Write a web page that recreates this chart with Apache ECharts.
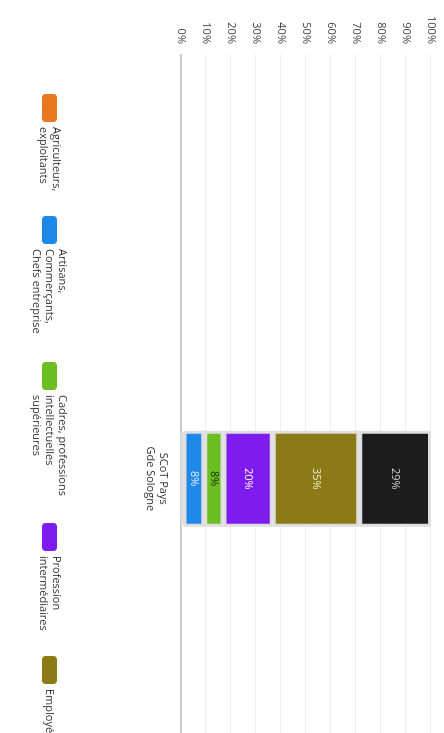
<!DOCTYPE html>
<html><head><meta charset="utf-8">
<script src="https://cdn.jsdelivr.net/npm/echarts@6/dist/echarts.min.js"></script>
<style>
html,body{margin:0;padding:0;overflow:hidden;background:#fff;width:444px;height:733px}
#chart{position:absolute;left:0;top:0;width:733px;height:444px;transform-origin:0 0;transform:translate(444px,0) rotate(90deg);}
</style></head><body><div id="chart"></div>
<script>
// ---- data ----
const categories = ['', '', 'SCoT Pays\nGde Sologne', ''];
const seriesNames = [
  'Agriculteurs,\nexploitants',
  'Artisans,\nCommerçants,\nChefs entreprise',
  'Cadres, professions\nintellectuelles\nsupérieures',
  'Profession\nintermédiaires',
  'Employés',
  'Ouvriers'
];
const agriculteurs = [null, null, 1.0, null];
const artisans     = [null, null, 8.3, null];
const cadres       = [null, null, 7.7, null];
const intermed     = [null, null, 19.7, null];
const employes     = [null, null, 34.6, null];
const ouvriers     = [null, null, 28.7, null];
const axisMin = 0, axisMax = 100, axisStep = 10;

// ---- styles ----
const colors = ['#E8771F', '#1F87E8', '#6CBF22', '#7E1CF0', '#8C7A16', '#1C1C1C'];
const labelColors = ['#ffffff', '#e6f1ff', '#16260a', '#ffffff', '#f2ecd2', '#cfcfcf'];
const legendTextWidths = [79, 103, 118, 90, 60, 60];
const FONT = 'Open Sans';

const values = [agriculteurs, artisans, cadres, intermed, employes, ouvriers];

const chart = echarts.init(document.getElementById('chart'), null, {renderer: 'canvas'});
chart.setOption({
  animation: false,
  backgroundColor: '#fff',
  grid: {left: 55, right: 0, top: 13, bottom: 181, containLabel: false},
  legend: {
    left: 89, top: 370, width: 1200,
    itemWidth: 28, itemHeight: 15, itemGap: 10,
    icon: 'roundRect',
    itemStyle: {borderWidth: 0},
    textStyle: {fontFamily: FONT, fontSize: 11, lineHeight: 13, color: '#333'},
    data: seriesNames.map((n, i) => ({name: n, textStyle: {width: legendTextWidths[i]}}))
  },
  xAxis: {
    type: 'category', data: categories,
    axisTick: {show: false},
    axisLine: {show: true, lineStyle: {color: '#c8c8c8', width: 2}},
    axisLabel: {fontFamily: FONT, fontSize: 11, lineHeight: 12.5, color: '#333', margin: 12, interval: 0}
  },
  yAxis: {
    type: 'value', min: axisMin, max: axisMax, interval: axisStep,
    axisLine: {show: false}, axisTick: {show: false},
    splitLine: {lineStyle: {color: '#eeeeee', width: 1}},
    axisLabel: {formatter: '{value}%', fontFamily: FONT, fontSize: 11, color: '#444', margin: 11}
  },
  series: values.map((v, i) => ({
    name: seriesNames[i], type: 'bar', stack: 'total', data: v,
    barWidth: 96,
    itemStyle: {color: colors[i], borderColor: '#dedede', borderWidth: 3},
    label: {
      show: true, position: 'inside',
      fontFamily: FONT, fontSize: 11, color: labelColors[i],
      formatter: p => (p.value == null || p.value < 3) ? '' : Math.round(p.value) + '%'
    }
  }))
});
</script></body></html>
